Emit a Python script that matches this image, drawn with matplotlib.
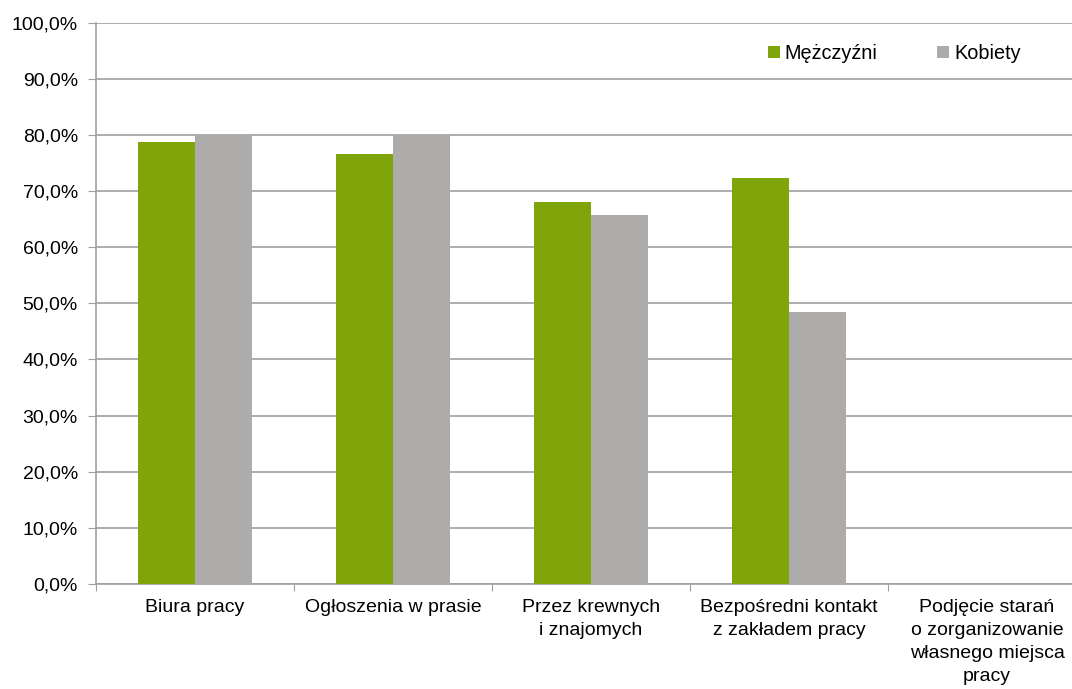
import matplotlib.pyplot as plt
import numpy as np

categories = [
    'Biura pracy',
    'Ogłoszenia w prasie',
    'Przez krewnych\ni znajomych',
    'Bezpośredni kontakt\nz zakładem pracy',
    'Podjęcie starań\no zorganizowanie\nwłasnego miejsca\npracy',
]
men = [78.7, 76.6, 68.0, 72.3, 0.0]
women = [80.0, 80.0, 65.7, 48.5, 0.0]
yticks = np.arange(0, 101, 10)
ytick_labels = [f'{v:.1f}%'.replace('.', ',') for v in yticks]

plt.rcParams['font.family'] = ['Liberation Sans', 'DejaVu Sans']

fig = plt.figure(figsize=(10.72, 6.89), dpi=100)
ax = fig.add_axes([96 / 1072, 1 - 584 / 689, 990 / 1072, 561.5 / 689])

x = np.arange(len(categories))
w = 0.288
ax.bar(x - w / 2, men, width=w, color='#80A50A', label='Mężczyźni', zorder=3)
ax.bar(x + w / 2, women, width=w, color='#AEABAB', label='Kobiety', zorder=3)

ax.set_xlim(-0.5, len(categories) - 0.5)
ax.set_ylim(0, 100)
ax.set_yticks(yticks)
ax.set_yticklabels(ytick_labels, fontsize=14)
ax.yaxis.grid(True, color='#a0a0a0', linewidth=1.2, zorder=0)

ax.set_xticks(np.arange(len(categories) + 1) - 0.5)
ax.set_xticklabels([])
ax.set_xticks(x, minor=True)
ax.set_xticklabels(categories, minor=True, fontsize=14, linespacing=1.45)
ax.tick_params(axis='x', which='minor', length=0, pad=11)
ax.tick_params(axis='x', which='major', length=5, color='#a0a0a0')
ax.tick_params(axis='y', length=6, color='#a0a0a0', pad=7)

for side in ['top', 'right']:
    ax.spines[side].set_visible(False)
for side in ['left', 'bottom']:
    ax.spines[side].set_color('#a0a0a0')
    ax.spines[side].set_linewidth(1.2)

ax.legend(loc='upper left', bbox_to_anchor=((758 - 96) / 990, (584 - 34) / 561.5),
          ncol=2, frameon=False, fontsize=14.3, handlelength=0.6, handleheight=0.6,
          handletextpad=0.25, columnspacing=3.0, borderpad=0)

fig.savefig('out.png', dpi=100)
